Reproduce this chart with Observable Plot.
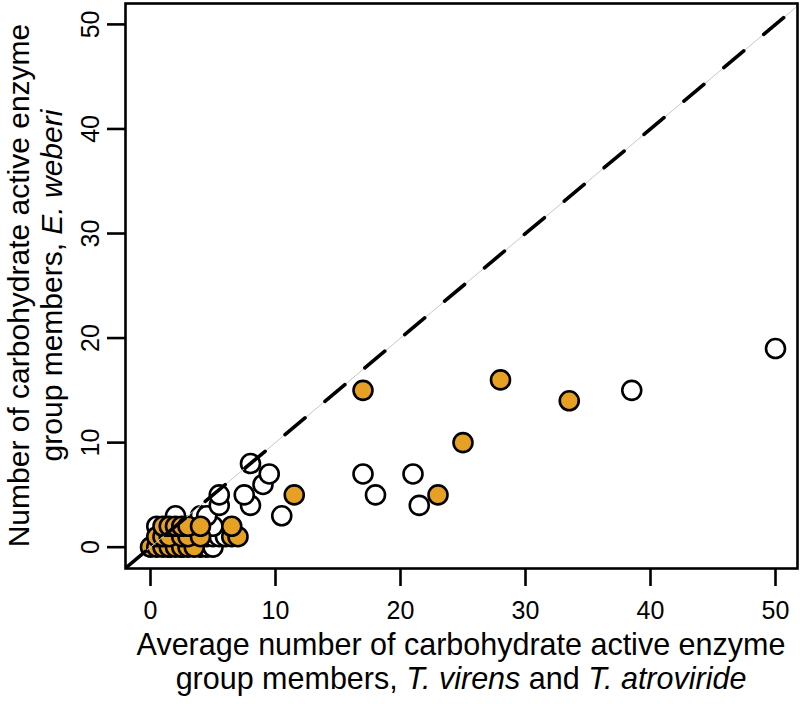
<!DOCTYPE html>
<html>
<head>
<meta charset="utf-8">
<script src="https://cdn.jsdelivr.net/npm/d3@7"></script>
<script src="https://cdn.jsdelivr.net/npm/@observablehq/plot@0.6"></script>
<style>
  html, body { margin: 0; padding: 0; background: #fff; }
  #chart svg { display: block; }
</style>
</head>
<body>
<div id="chart"></div>
<script>
// Open circles: families (x = mean count in T. virens & T. atroviride, y = count in E. weberi)
const openX = [1.5, 2.5, 4, 4.5, 5,  1, 2, 3.5, 4.5, 5, 5.5, 6,  0.5, 2, 3.5, 4.5, 5,  2, 4, 4.5,  5.5, 8,  5.5, 7.5, 9, 9.5, 8, 10.5, 17, 18, 21, 21.5, 38.5, 50];
const openY = [0,   0,   0, 0,   0,  1, 1, 1,   1,   1, 1,   1,  2,   2, 2,   2,   2,  3, 3, 3,    4,   4,  5,   5,   6, 7,   8, 3,    7,  5,  7,  4,    15,   19];
// Filled (orange) circles
const fillX = [0, 0.5, 1, 1.5, 2, 2.5, 3, 3.5,  0.5, 1, 1.5, 2.5, 3, 4, 6.5, 7,  1, 1.5, 2, 2.5, 3, 4, 6.5,  11.5, 17, 23, 25, 28, 33.5];
const fillY = [0, 0,   0, 0,   0, 0,   0, 0,    1,   1, 1,   1,   1, 1, 1,   1,  2, 2,   2, 2,   2, 2, 2,    5,    15, 5,  10, 16, 14];
const ticks = [0, 10, 20, 30, 40, 50];

const openPts = openX.map((x, i) => ({x, y: openY[i]}));
const fillPts = fillX.map((x, i) => ({x, y: fillY[i]}));
const diag = [{x: -2, y: -2}, {x: 52, y: 52}];

const FONT = "Liberation Sans, Arial, Helvetica, sans-serif";

const plot = Plot.plot({
  width: 804,
  height: 704,
  marginLeft: 125,
  marginRight: 7,
  marginTop: 3,
  marginBottom: 136,
  style: {fontFamily: FONT, background: "#fff", overflow: "visible"},
  x: {domain: [-2, 51.76], axis: null},
  y: {domain: [-2.04, 52], axis: null},
  marks: [
    Plot.dot(openPts, {x: "x", y: "y", r: 9.5, fill: "white", stroke: "black", strokeWidth: 2.6}),
    Plot.dot(fillPts, {x: "x", y: "y", r: 9.5, fill: "#E6A024", stroke: "black", strokeWidth: 2.6}),
    Plot.line(diag, {x: "x", y: "y", stroke: "#c8c8c8", strokeWidth: 1, clip: true}),
    Plot.line(diag, {x: "x", y: "y", stroke: "black", strokeWidth: 3.6, strokeDasharray: "26,26", clip: true}),
    Plot.frame({stroke: "black", strokeWidth: 2.6}),
    Plot.axisX(ticks, {label: null, tickSize: 18, tickPadding: 15, fontSize: 25, strokeWidth: 2.6, tickFormat: d => d, fontFamily: FONT, fill: "black"}),
    Plot.axisY(ticks, {label: null, tickSize: 18, tickPadding: 0, text: null, strokeWidth: 2.6}),
    Plot.text(ticks, {y: d => d, text: d => String(d), frameAnchor: "left", dx: -35, rotate: -90, textAnchor: "middle", fontSize: 25, fill: "black", fontFamily: FONT})
  ]
});

const svg = d3.select(plot);

// x-axis title (two lines)
const cx = (125 + 797) / 2;
const xt = svg.append("text")
  .attr("font-family", FONT).attr("font-size", 30.5).attr("fill", "black")
  .attr("text-anchor", "middle");
xt.append("tspan").attr("x", cx).attr("y", 655).text("Average number of carbohydrate active enzyme");
const l2 = xt.append("tspan").attr("x", cx).attr("y", 689);
l2.append("tspan").text("group members, ");
l2.append("tspan").attr("font-style", "italic").text("T. virens");
l2.append("tspan").text(" and ");
l2.append("tspan").attr("font-style", "italic").text("T. atroviride");

// y-axis title (two lines, rotated)
const cy = (3 + 568) / 2;
const yt = svg.append("text")
  .attr("font-family", FONT).attr("font-size", 30).attr("fill", "black")
  .attr("text-anchor", "middle")
  .attr("transform", `translate(0,${cy}) rotate(-90)`);
yt.append("tspan").attr("x", 0).attr("y", 29).text("Number of carbohydrate active enzyme");
const m2 = yt.append("tspan").attr("x", 0).attr("y", 62);
m2.append("tspan").text("group members, ");
m2.append("tspan").attr("font-style", "italic").text("E. weberi");

document.getElementById("chart").appendChild(plot);
</script>
</body>
</html>
